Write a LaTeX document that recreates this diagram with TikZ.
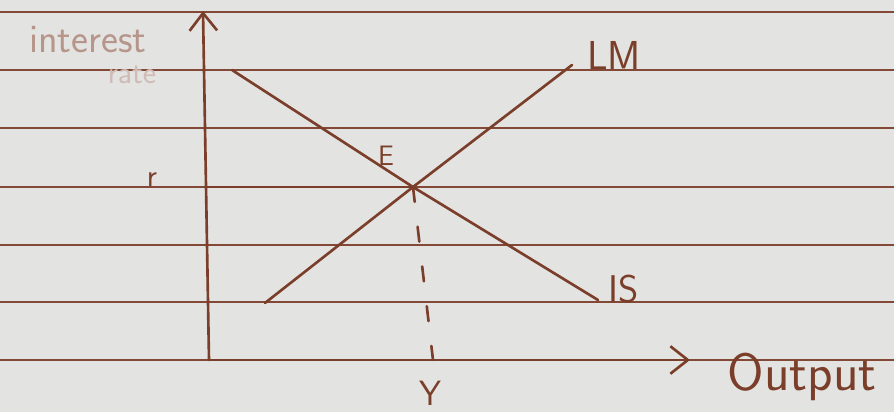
\documentclass[tikz,border=0pt]{standalone}
\usetikzlibrary{arrows.meta}
\definecolor{paper}{RGB}{227,227,225}
\definecolor{ink}{RGB}{122,62,42}
\definecolor{rule}{RGB}{132,72,54}

\begin{document}
\begin{tikzpicture}[x=0.02cm, y=-0.02cm, every node/.style={font=\sffamily, text=ink, inner sep=0pt},
        curve/.style={ink, line width=1.5pt, line cap=round},
        ruled/.style={rule, line width=1.6pt},
        barb/.style={-{Straight Barb[length=0.35cm, width=0.55cm, line width=1.5pt]}}]
        \fill[paper] (0,0) rectangle (894,412);
        \useasboundingbox (0,0) rectangle (894,412);

        % lines of the notebook page
        \foreach \y in {12,70,128,187,245,302,360}
            \draw[ruled] (0,\y) -- (894,\y);

        \coordinate (origin) at (209,360);
        \coordinate (ytop) at (203,11);
        \coordinate (xend) at (690,360);
        \coordinate (E) at (413,187);
        \coordinate (raxis) at (205,187);
        \coordinate (Ybase) at (433,360);
        \coordinate (lmlow) at (265,303);
        \coordinate (lmhigh) at (572,65);
        \coordinate (ishigh) at (232,70);
        \coordinate (islow) at (598,300);

        \draw[curve, barb] (origin) -- (ytop);
        \draw[curve, barb] (origin) -- (xend);
        \draw[curve] (lmlow) -- (E) -- (lmhigh);
        \draw[curve] (ishigh) -- (E) -- (islow);
        \draw[curve] (raxis) -- (E);
        \draw[curve, dash pattern=on 0.3cm off 0.5cm] (E) -- (Ybase);

        \node[text=ink!55, font=\sffamily\fontsize{23}{23}\selectfont] (intlab) at (88,40) {interest};
        \node[text=ink!35, font=\sffamily\fontsize{18}{18}\selectfont] (ratelab) at (132,75) {rate};
        \node[font=\sffamily\fontsize{18}{18}\selectfont] (rlab) at (152,180) {r};
        \node[font=\sffamily\fontsize{16}{16}\selectfont] (elab) at (386,156) {E};
        \node[font=\sffamily\fontsize{23}{23}\selectfont] (lmlab) at (614,55) {LM};
        \node[font=\sffamily\fontsize{22}{22}\selectfont] (islab) at (624,289) {IS};
        \node[font=\sffamily\fontsize{20}{20}\selectfont] (ylab) at (430,393) {Y};
        \node[font=\sffamily\fontsize{30}{30}\selectfont] (outlab) at (802,377) {Output};
    \end{tikzpicture}
\end{document}
